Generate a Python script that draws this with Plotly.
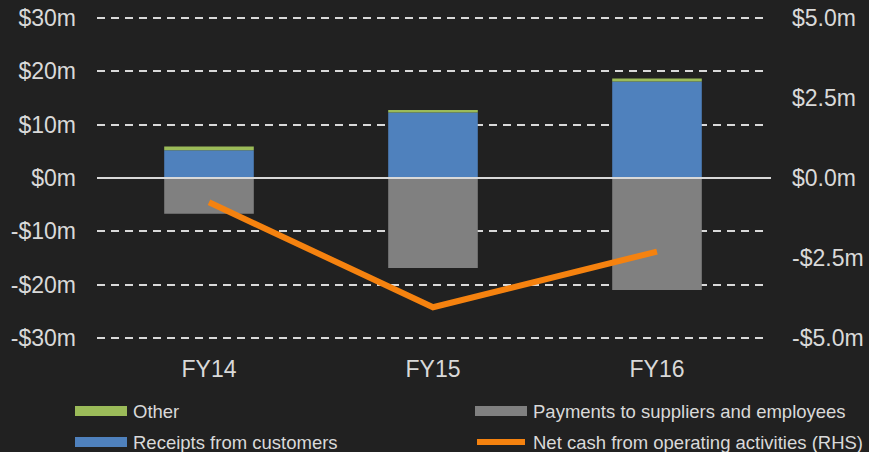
import plotly.graph_objects as go

categories = ["FY14", "FY15", "FY16"]
receipts = [5.2, 12.3, 18.1]
other = [0.7, 0.45, 0.55]
payments = [-6.7, -16.9, -21.0]
net_cash = [-0.76, -4.04, -2.30]

left_ticks = [30, 20, 10, 0, -10, -20, -30]
left_labels = ["$30m", "$20m", "$10m", "$0m", "-$10m", "-$20m", "-$30m"]
right_ticks = [5, 2.5, 0, -2.5, -5]
right_labels = ["$5.0m", "$2.5m", "$0.0m", "-$2.5m", "-$5.0m"]

BG = "#212121"
TXT = "#D9D9D9"
BLUE = "#4F81BD"
GREY = "#808080"
GREEN = "#9BBB59"
ORANGE = "#F5820F"
FONT = "Liberation Sans, Arial, sans-serif"

W, H = 869, 452
L, R, T, B = 97, 100, 17, 113
PW, PH = W - L - R, H - T - B


def px(x):
    return (x - L) / PW


def py(y):
    return (H - B - y) / PH


fig = go.Figure()
fig.add_trace(go.Bar(x=categories, y=receipts, name="Receipts from customers",
                     marker=dict(color=BLUE, line=dict(width=0)), width=0.4))
fig.add_trace(go.Bar(x=categories, y=other, name="Other",
                     marker=dict(color=GREEN, line=dict(width=0)), width=0.4))
fig.add_trace(go.Bar(x=categories, y=payments, name="Payments to suppliers and employees",
                     marker=dict(color=GREY, line=dict(width=0)), width=0.4))
fig.add_trace(go.Scatter(x=categories, y=net_cash, yaxis="y2", mode="lines",
                         name="Net cash from operating activities (RHS)",
                         line=dict(color=ORANGE, width=6)))

shapes = [
    dict(type="line", xref="paper", yref="y", x0=0, x1=1.003, y0=0, y1=0,
         line=dict(color=TXT, width=2), layer="above"),
]
annotations = []

legend_items = [
    ("Other", GREEN, "bar", 75, 411),
    ("Payments to suppliers and employees", GREY, "bar", 475, 411),
    ("Receipts from customers", BLUE, "bar", 75, 442),
    ("Net cash from operating activities (RHS)", ORANGE, "line", 475, 442),
]
for text, color, kind, x, y in legend_items:
    if kind == "bar":
        shapes.append(dict(type="rect", xref="paper", yref="paper",
                           x0=px(x), x1=px(x + 52), y0=py(y + 5), y1=py(y - 5),
                           fillcolor=color, line=dict(width=0)))
    else:
        shapes.append(dict(type="line", xref="paper", yref="paper",
                           x0=px(x + 2), x1=px(x + 50), y0=py(y), y1=py(y),
                           line=dict(color=color, width=6)))
    annotations.append(dict(xref="paper", yref="paper", x=px(x + 56), y=py(y),
                            xanchor="left", yanchor="middle", showarrow=False,
                            text=text, font=dict(family=FONT, size=18.5, color=TXT)))

fig.update_layout(
    width=W, height=H,
    margin=dict(l=L, r=R, t=T, b=B, autoexpand=False),
    paper_bgcolor=BG, plot_bgcolor=BG,
    barmode="relative",
    showlegend=False,
    font=dict(family=FONT, color=TXT, size=23),
    xaxis=dict(showgrid=False, showline=False, zeroline=False, ticks="",
               automargin=False,
               ticklabelstandoff=14, tickfont=dict(size=23, color=TXT)),
    yaxis=dict(range=[-30.2, 30.2], tickvals=left_ticks, ticktext=left_labels,
               automargin=False,
               showgrid=True, gridcolor=TXT, griddash="8px,6px", gridwidth=1.5,
               zeroline=False, showline=False, ticks="", ticklabelstandoff=20,
               tickfont=dict(size=23, color=TXT)),
    yaxis2=dict(range=[-5.0333, 5.0333], tickvals=right_ticks, ticktext=right_labels,
                automargin=False,
                overlaying="y", side="right", showgrid=False, zeroline=False,
                showline=False, ticks="", ticklabelstandoff=22,
                tickfont=dict(size=23, color=TXT)),
    shapes=shapes,
    annotations=annotations,
)

fig.write_html(
    "out.html",
    config={"displayModeBar": False},
    post_script="document.body.style.margin='0';document.body.style.background='#212121';",
)
